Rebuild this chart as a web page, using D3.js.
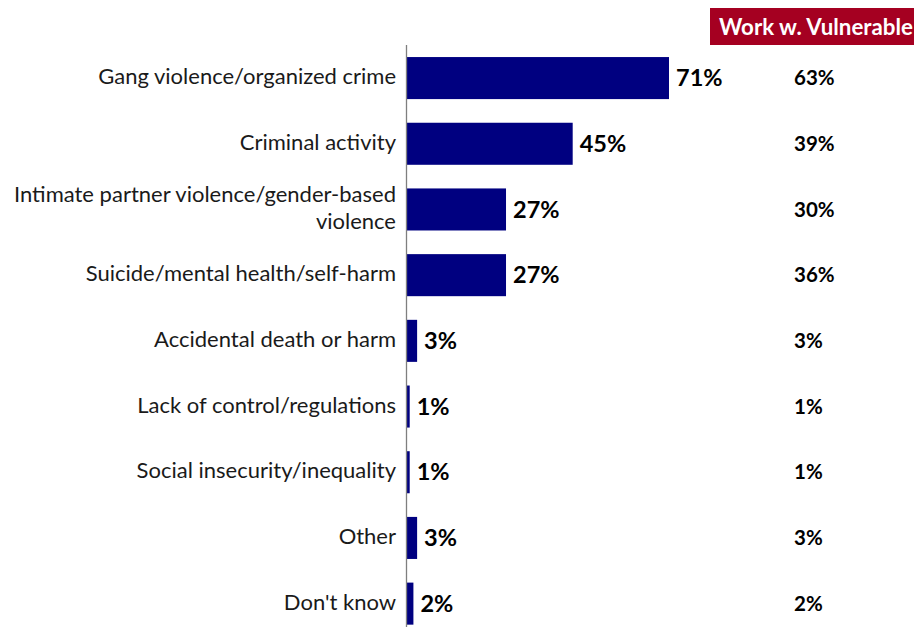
<!DOCTYPE html>
<html><head><meta charset="utf-8">
<script src="https://cdn.jsdelivr.net/npm/d3@7"></script>
<style>body{margin:0;background:#fff}</style>
</head><body><svg id="c" width="914" height="628"></svg>
<script>
const categories = [
  ["Gang violence/organized crime"],
  ["Criminal activity"],
  ["Intimate partner violence/gender-based", "violence"],
  ["Suicide/mental health/self-harm"],
  ["Accidental death or harm"],
  ["Lack of control/regulations"],
  ["Social insecurity/inequality"],
  ["Other"],
  ["Don't know"]
];
const totalValues = [71, 45, 27, 27, 3, 1, 1, 3, 2];
const vulnerableValues = [63, 39, 30, 36, 3, 1, 1, 3, 2];
const headerLabel = "Work w. Vulnerable";

const svg = d3.select("#c");
const idx = categories.map((d, i) => i);
const x = d3.scaleLinear().domain([0, 71]).range([406, 669]);
const y = d3.scaleBand().domain(idx).range([33.4, 648.3]).paddingInner(0.36).paddingOuter(0.36);
const font = "Lato, 'Open Sans', sans-serif";

// bars
svg.selectAll("rect.bar").data(idx).enter().append("rect")
  .attr("x", x(0)).attr("y", i => y(i))
  .attr("width", i => x(totalValues[i]) - x(0))
  .attr("height", y.bandwidth())
  .attr("fill", "#000080");

// axis line
svg.append("line").attr("x1", 406.5).attr("x2", 406.5).attr("y1", 45).attr("y2", 627)
  .attr("stroke", "#7f7f7f").attr("stroke-width", 1.3);

// category labels
idx.forEach(i => {
  const lines = categories[i];
  const cy = y(i) + y.bandwidth() / 2;
  const lh = 27;
  const t = svg.append("text").attr("text-anchor", "end")
    .attr("font-family", font).attr("font-size", 22).attr("fill", "#1a1a1a");
  lines.forEach((l, k) => {
    t.append("tspan").attr("x", 396)
      .attr("y", cy - 1.5 + (k - (lines.length - 1) / 2) * lh)
      .attr("dy", "0.35em").text(l);
  });
});

// value labels
svg.selectAll("text.val").data(idx).enter().append("text")
  .attr("x", i => x(totalValues[i]) + 7)
  .attr("y", i => y(i) + y.bandwidth() / 2).attr("dy", "0.35em")
  .attr("font-family", font).attr("font-weight", "bold").attr("font-size", 23.5)
  .attr("fill", "#000").text(i => totalValues[i] + "%");

// right column
svg.selectAll("text.vul").data(idx).enter().append("text")
  .attr("x", 794)
  .attr("y", i => y(i) + y.bandwidth() / 2).attr("dy", "0.35em")
  .attr("font-family", font).attr("font-weight", "bold").attr("font-size", 20.5)
  .attr("fill", "#000").text(i => vulnerableValues[i] + "%");

// header
svg.append("rect").attr("x", 710).attr("y", 8).attr("width", 204).attr("height", 37).attr("fill", "#A50021");
svg.append("text").attr("x", 719).attr("y", 27).attr("dy", "0.35em")
  .attr("font-family", font).attr("font-weight", "bold").attr("font-size", 22.3)
  .attr("fill", "#fff").text(headerLabel);
</script></body></html>
